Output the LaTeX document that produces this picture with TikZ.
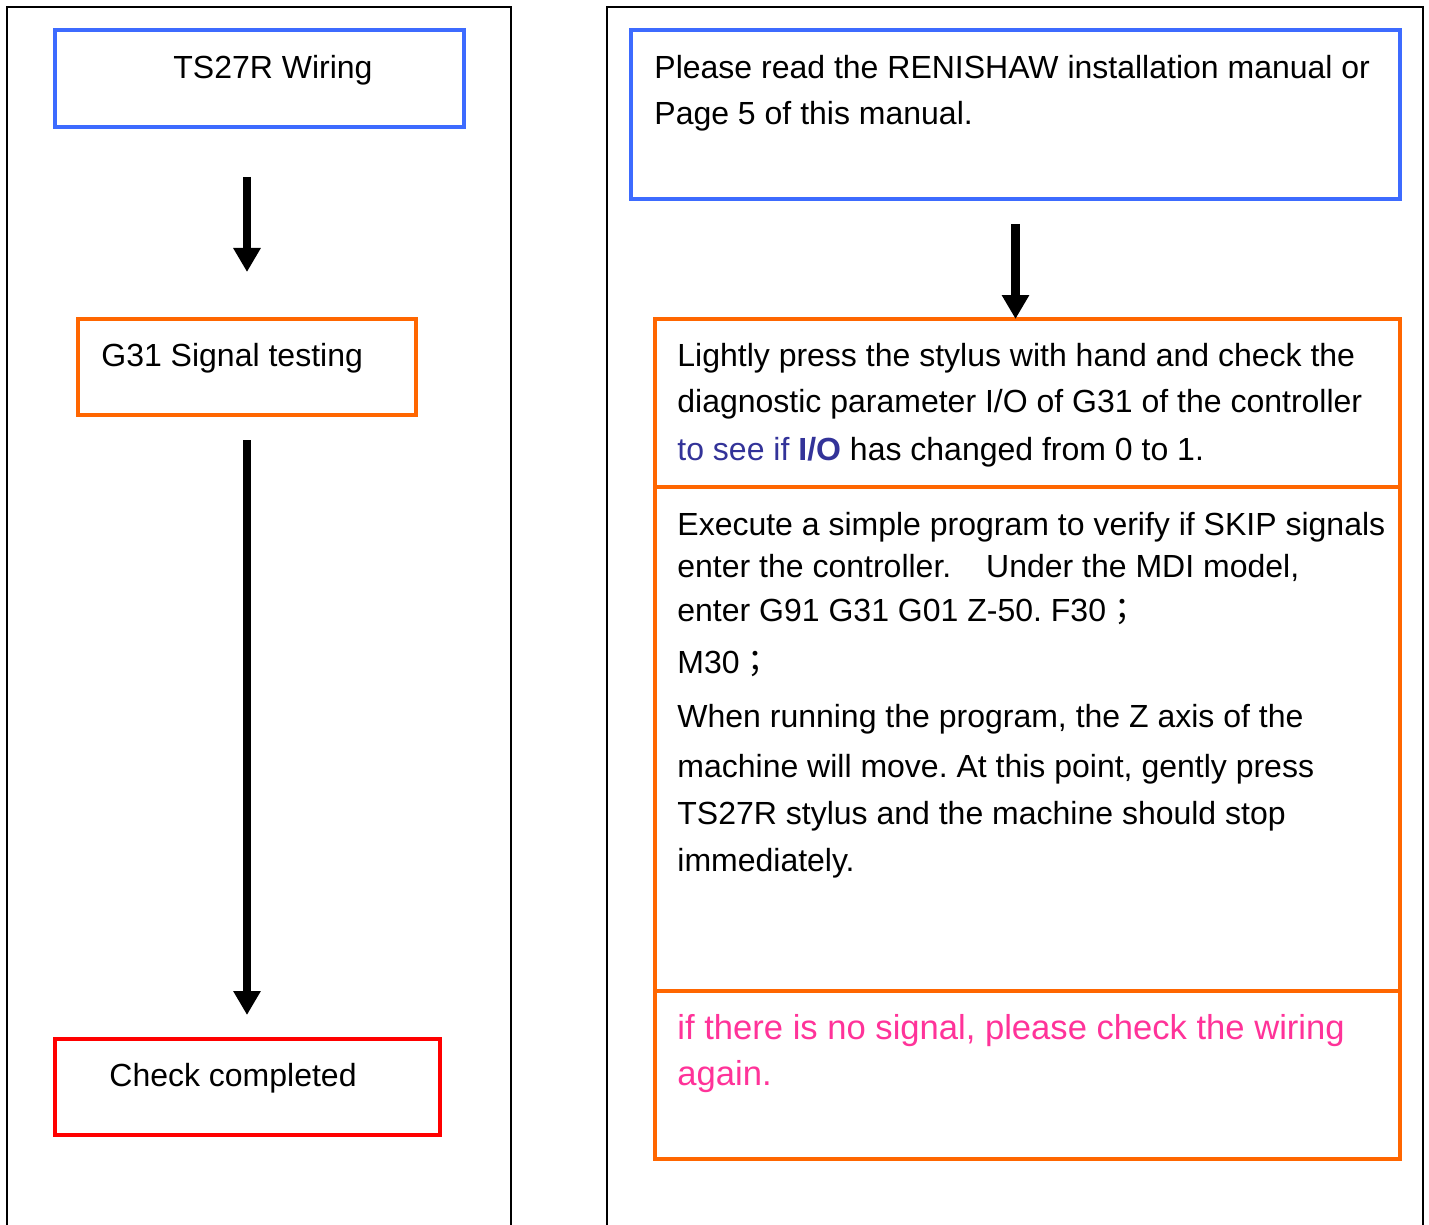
\documentclass[tikz,border=0pt]{standalone}
\usepackage{fontspec}
\setmainfont{Liberation Sans}
\newfontfamily\cjk{Noto Sans CJK TC}
\usetikzlibrary{positioning,arrows.meta}
\definecolor{boxblue}{RGB}{61,107,255}
\definecolor{boxorange}{RGB}{255,102,0}
\definecolor{boxred}{RGB}{255,0,0}
\definecolor{notepink}{RGB}{255,51,153}
\definecolor{notenavy}{RGB}{51,51,153}
\frenchspacing
\tikzset{
  frame/.style={line width=1pt},
  box/.style={draw, rectangle, line width=2pt, inner sep=0pt, outer sep=0pt},
  txt/.style={inner sep=0pt, align=left, font=\fontsize{16}{23}\selectfont},
  flow/.style={line width=4.25pt, -{Triangle[width=13pt,length=12pt]}}
}
\begin{document}
\begin{tikzpicture}[x=0.5pt,y=-0.5pt]
\useasboundingbox (0,0) rectangle (1429,1225);
% outer frames, open at the bottom
\draw[frame] (7,1230) -- (7,7) -- (511,7) -- (511,1230);
\draw[frame] (607,1230) -- (607,7) -- (1423,7) -- (1423,1230);

% left column
\node[box, draw=boxblue, minimum width=204.5pt, minimum height=48.5pt] (wiring) at (259.5,78.5) {};
\node[txt, below right=12.5pt and 59pt of wiring.north west] (wiringtext) {TS27R Wiring};
\node[box, draw=boxorange, minimum width=169pt, minimum height=48pt] (signal) at (247,367) {};
\node[txt, below right=12pt and 11.5pt of signal.north west] (signaltext) {G31 Signal testing};
\node[box, draw=boxred, minimum width=192.5pt, minimum height=48pt] (check) at (247.5,1087) {};
\node[txt, below right=12pt and 27pt of check.north west] (checktext) {Check completed};

\draw[flow, shorten <=25pt, shorten >=23.5pt] (signal.north |- wiring.south) -- (signal.north);
\draw[flow, shorten <=12.5pt, shorten >=12pt] (signal.south) -- (signal.south |- check.north);

% right column
\node[box, draw=boxblue, minimum width=384.5pt, minimum height=84.5pt] (read) at (1015.5,114.5) {};
\node[txt, below right=12.5pt and 11.5pt of read.north west] (readtext)
  {Please read the RENISHAW installation manual or\\ Page 5 of this manual.};

\node[box, draw=boxorange, minimum width=372.5pt, minimum height=84pt] (stepA) at (1027.5,403) {};
\node[box, draw=boxorange, minimum width=372.5pt, minimum height=252pt] (stepB) at (1027.5,739) {};
\node[box, draw=boxorange, minimum width=372.5pt, minimum height=84pt] (stepC) at (1027.5,1075) {};

\node[txt, below right=12pt and 11pt of stepA.north west] (stepAtext)
  {Lightly press the stylus with hand and check the\\
   diagnostic parameter I/O of G31 of the controller\\[1pt]
   {\color{notenavy}to see if \textbf{I/O}} has changed from 0 to 1.};
\node[txt, font=\fontsize{16}{21}\selectfont, below right=12.5pt and 11pt of stepB.north west] (stepBtext)
  {Execute a simple program to verify if SKIP signals\\
   enter the controller.\hspace{13pt} Under the MDI model,\\[1pt]
   enter G91 G31 G01 Z-50. F30{\cjk ；}\\[5pt]
   M30{\cjk ；}\\[6pt]
   When running the program, the Z axis of the\\[4pt]
   machine will move. At this point, gently press\\[2.5pt]
   TS27R stylus and the machine should stop\\[2.5pt]
   immediately.};
\node[txt, text=notepink, font=\fontsize{17.3}{23}\selectfont, below right=11.5pt and 11pt of stepC.north west] (stepCtext)
  {if there is no signal, please check the wiring\\ again.};

\draw[flow, shorten <=12.5pt] (read.south) -- (read.south |- stepA.north);
\end{tikzpicture}
\end{document}
